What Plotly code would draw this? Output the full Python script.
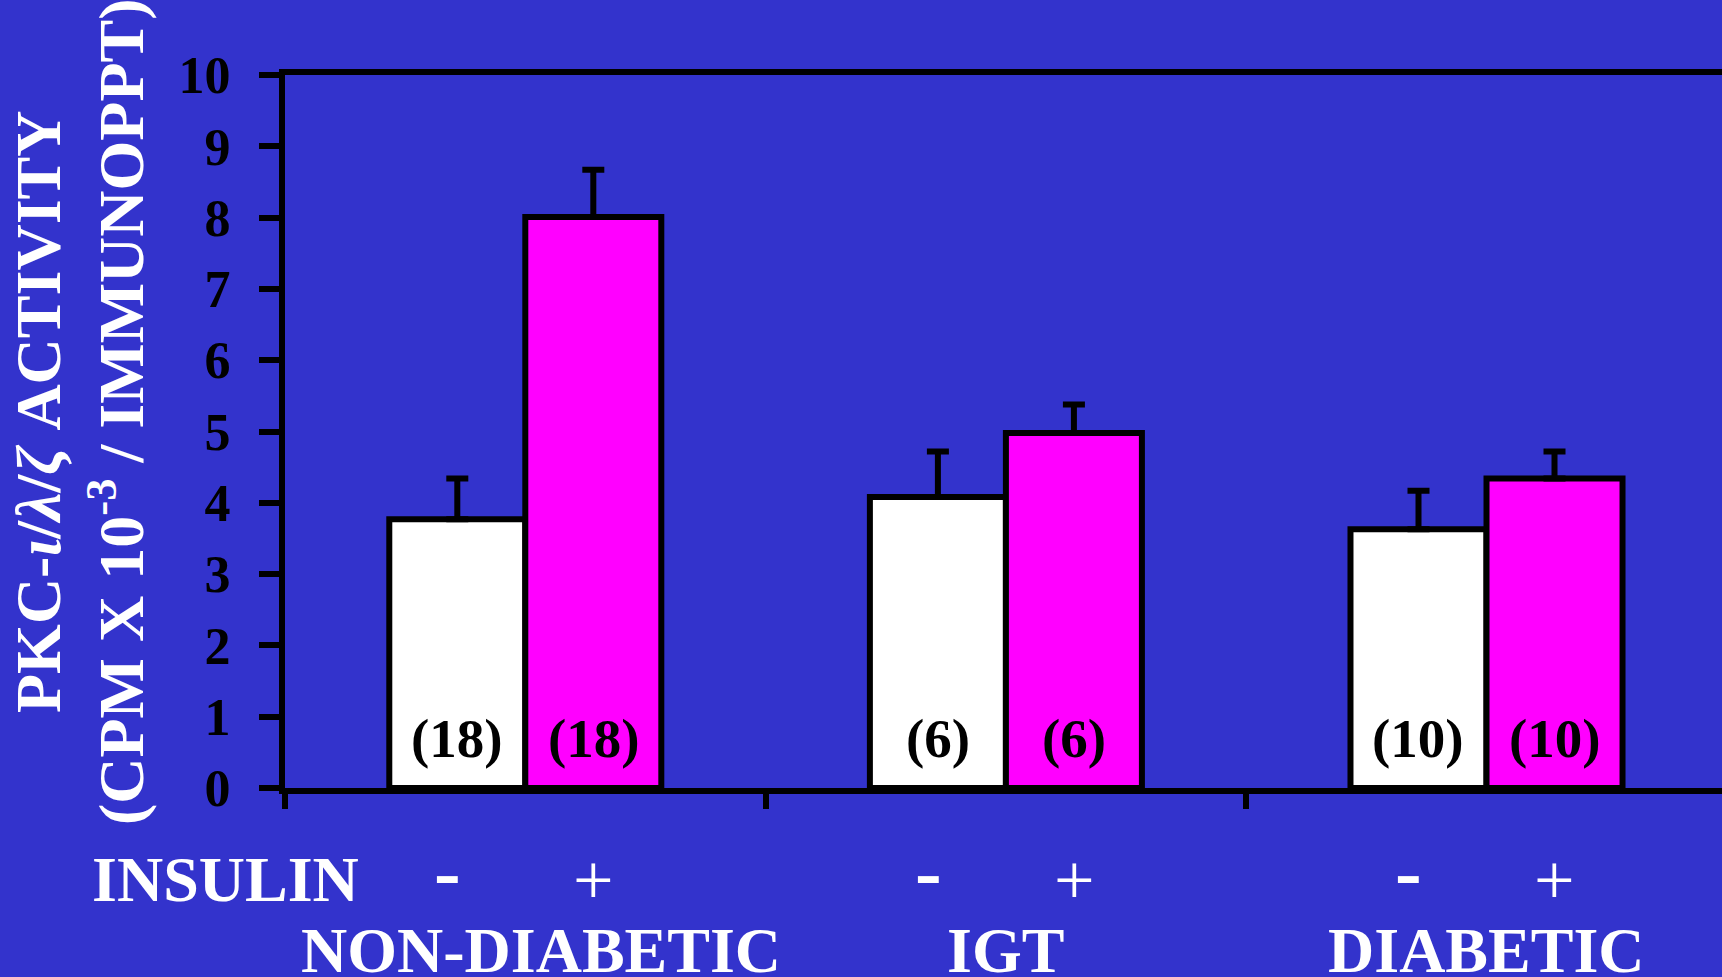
import plotly.graph_objects as go

# Group means and SEM (upper error only), PKC activity, CPM x 10^-3 / immunoppt
groups = ["NON-DIABETIC", "IGT", "DIABETIC"]
basal = [3.77, 4.08, 3.63]
basal_sem = [0.57, 0.64, 0.54]
insulin = [8.01, 4.98, 4.34]
insulin_sem = [0.66, 0.40, 0.38]
n_basal = [18, 6, 10]
n_insulin = [18, 6, 10]
y_ticks = list(range(0, 11))
insulin_signs = ["-", "+"]

BG = "#3333CC"
SERIF = "Liberation Serif"
xpos = list(range(len(groups)))
half = 0.142  # offset of each bar centre from its group centre

fig = go.Figure()
fig.add_trace(go.Bar(
    x=xpos, y=basal, name="-",
    marker=dict(color="white", line=dict(color="black", width=6)),
    error_y=dict(type="data", array=basal_sem, arrayminus=[0] * 3, symmetric=False,
                 color="black", thickness=6, width=11),
))
fig.add_trace(go.Bar(
    x=xpos, y=insulin, name="+",
    marker=dict(color="#FF00FF", line=dict(color="black", width=6)),
    error_y=dict(type="data", array=insulin_sem, arrayminus=[0] * 3, symmetric=False,
                 color="black", thickness=6, width=11),
))

ann = []
# n per bar, near the base
for i in xpos:
    for off, n in ((-half, n_basal[i]), (half, n_insulin[i])):
        ann.append(dict(x=i + off, y=0.7, xref="x", yref="y", text=f"<b>({n})</b>",
                        showarrow=False, xanchor="center", yanchor="middle",
                        font=dict(family=SERIF, size=55, color="black")))
# insulin -/+ row
ann.append(dict(x=90, y=880, xref="paper", yref="paper", text="<b>INSULIN</b>",
                showarrow=False, xanchor="left", yanchor="middle",
                font=dict(family=SERIF, size=64, color="white")))
for i in xpos:
    ann.append(dict(x=i - half - 0.02, y=872, xref="x", yref="paper",
                    text=f"<b>{insulin_signs[0]}</b>",
                    showarrow=False, xanchor="center", yanchor="middle",
                    font=dict(family=SERIF, size=80, color="white")))
    ann.append(dict(x=i + half, y=880, xref="x", yref="paper", text=insulin_signs[1],
                    showarrow=False, xanchor="center", yanchor="middle",
                    font=dict(family=SERIF, size=72, color="white")))
# group names
for i, g in enumerate(groups):
    ann.append(dict(x=i, y=950, xref="x", yref="paper", text=f"<b>{g}</b>",
                    showarrow=False, xanchor="center", yanchor="middle",
                    xshift=16 if i == 0 else 0,
                    font=dict(family=SERIF, size=64, color="white")))
# y-axis title
ann.append(dict(x=80, y=412, xref="paper", yref="paper", textangle=-90,
                text="<b>PKC-<i>ι</i>/<i>λ</i>/<i>ζ</i> ACTIVITY<br>(CPM X 10<sup>-3</sup> / IMMUNOPPT)</b>",
                showarrow=False, xanchor="center", yanchor="middle",
                font=dict(family=SERIF, size=64, color="white")))

# convert pixel placements in paper coordinates
L, R, T, B = 285, 0, 75, 189
W, H = 1722, 977
pw, ph = W - L - R, H - T - B
for a in ann:
    if a["xref"] == "paper":
        a["x"] = (a["x"] - L) / pw
    if a["yref"] == "paper":
        a["y"] = (H - B - a["y"]) / ph

fig.update_layout(
    width=W, height=H,
    margin=dict(l=L, r=R, t=T, b=B, pad=0),
    paper_bgcolor=BG, plot_bgcolor=BG,
    barmode="group", bargap=0.434, bargroupgap=0,
    showlegend=False,
    annotations=ann,
)
fig.update_xaxes(
    range=[-0.5, 2.49], showgrid=False, zeroline=False,
    showline=True, linecolor="black", linewidth=6, mirror=True,
    tickvals=[-0.5, 0.5, 1.5], ticks="outside", ticklen=15, tickwidth=6,
    tickcolor="black", showticklabels=False,
)
fig.update_yaxes(
    range=[0, 10], showgrid=False, zeroline=False,
    showline=True, linecolor="black", linewidth=6, mirror=False,
    tickvals=y_ticks, ticks="outside", ticklen=20, tickwidth=6, tickcolor="black",
    tickfont=dict(family=SERIF, size=52, color="black", weight="bold"),
    ticklabelstandoff=18,
)

fig.write_html("out.html")
